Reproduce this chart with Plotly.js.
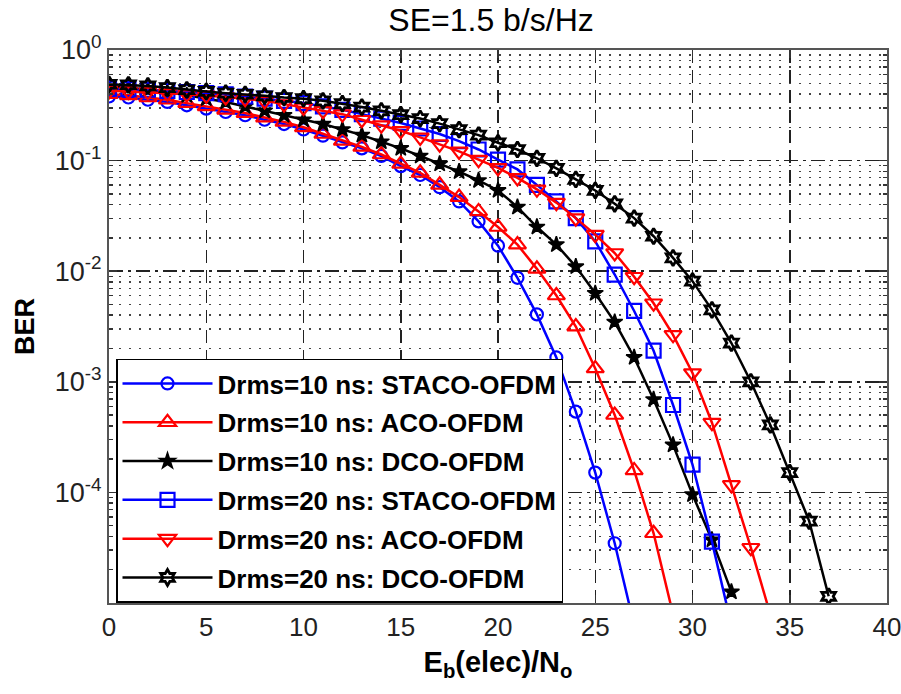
<!DOCTYPE html>
<html>
<head>
<meta charset="utf-8">
<script src="https://cdn.plot.ly/plotly-3.0.1.min.js"></script>
<style>html,body{margin:0;padding:0;background:#fff;}#chart{width:901px;height:694px;}</style>
</head>
<body>
<div id="chart"></div>
<script>
// Eb(elec)/No in dB for each series
const xStaco10 = [0,1,2,3,4,5,6,7,8,9,10,11,12,13,14,15,16,17,18,19,20,21,22,23,24,25,26,27];
const berStaco10 = [0.380,0.372,0.355,0.339,0.316,0.295,0.275,0.257,0.234,0.214,0.191,0.168,0.146,0.129,0.110,0.0891,0.0741,0.0575,0.0427,0.0282,0.0170,0.00871,0.00407,0.00166,0.000537,0.000151,3.47e-5,6.3e-6];

const xAco10 = [0,1,2,3,4,5,6,7,8,9,10,11,12,13,14,15,16,17,18,19,20,21,22,23,24,25,26,27,28,29];
const berAco10 = [0.398,0.389,0.372,0.355,0.331,0.309,0.288,0.269,0.245,0.224,0.200,0.174,0.151,0.133,0.1135,0.0933,0.0776,0.0603,0.0468,0.0347,0.0251,0.0174,0.0105,0.00603,0.00316,0.00132,0.000501,0.000158,4.27e-5,7.9e-6];

const xDco10 = [0,1,2,3,4,5,6,7,8,9,10,11,12,13,14,15,16,17,18,19,20,21,22,23,24,25,26,27,28,29,30,31,32];
const berDco10 = [0.468,0.457,0.437,0.417,0.389,0.363,0.339,0.309,0.282,0.257,0.234,0.214,0.191,0.170,0.148,0.129,0.110,0.0933,0.0794,0.0661,0.0537,0.038,0.0251,0.0174,0.011,0.00631,0.00347,0.00166,0.000692,0.000269,9.55e-5,3.72e-5,1.26e-5];

const xStaco20 = [0,1,2,3,4,5,6,7,8,9,10,11,12,13,14,15,16,17,18,19,20,21,22,23,24,25,26,27,28,29,30,31,32];
const berStaco20 = [0.447,0.442,0.437,0.427,0.417,0.407,0.398,0.380,0.363,0.347,0.331,0.309,0.288,0.263,0.240,0.219,0.195,0.174,0.150,0.126,0.102,0.0832,0.0603,0.0427,0.0302,0.0186,0.00933,0.00437,0.00191,0.000617,0.000178,3.59e-5,6.3e-6];

const xAco20 = [0,1,2,3,4,5,6,7,8,9,10,11,12,13,14,15,16,17,18,19,20,21,22,23,24,25,26,27,28,29,30,31,32,33,34];
const berAco20 = [0.427,0.422,0.417,0.407,0.398,0.389,0.376,0.363,0.347,0.324,0.302,0.282,0.263,0.234,0.209,0.186,0.162,0.141,0.121,0.102,0.0859,0.0697,0.055,0.0417,0.0302,0.0214,0.0146,0.00891,0.00513,0.00266,0.0012,0.000427,0.000117,3.16e-5,7.9e-6];

const xDco20 = [0,1,2,3,4,5,6,7,8,9,10,11,12,13,14,15,16,17,18,19,20,21,22,23,24,25,26,27,28,29,30,31,32,33,34,35,36,37];
const berDco20 = [0.490,0.485,0.473,0.457,0.437,0.422,0.407,0.398,0.385,0.372,0.363,0.347,0.327,0.305,0.282,0.260,0.240,0.216,0.191,0.170,0.145,0.126,0.105,0.0851,0.0676,0.0537,0.0407,0.0302,0.0207,0.0132,0.00813,0.00447,0.00224,0.001,0.000407,0.000151,5.5e-5,1.15e-5];

const seriesNames = ['Drms=10 ns: STACO-OFDM','Drms=10 ns: ACO-OFDM','Drms=10 ns: DCO-OFDM','Drms=20 ns: STACO-OFDM','Drms=20 ns: ACO-OFDM','Drms=20 ns: DCO-OFDM'];

const xTickVals = [0,5,10,15,20,25,30,35,40];
const yTickVals = [1, 0.1, 0.01, 0.001, 0.0001];
const yTickText = ['10<sup>0</sup>','10<sup>-1</sup>','10<sup>-2</sup>','10<sup>-3</sup>','10<sup>-4</sup>'];
const yMinorVals = [];
[1e-5,1e-4,1e-3,1e-2,1e-1].forEach(d => { for (let k = 2; k <= 9; k++) yMinorVals.push(+(k*d).toPrecision(3)); });

const styles = [
  {color:'#0000ff', symbol:'circle-open', size:12, lw:2.2},
  {color:'#ff0000', symbol:'triangle-up-open', size:15, lw:2.2},
  {color:'#000000', symbol:'star', size:12, lw:1.5},
  {color:'#0000ff', symbol:'square-open', size:14, lw:2.2},
  {color:'#ff0000', symbol:'triangle-down-open', size:15, lw:2.2},
  {color:'#000000', symbol:'hexagram-open', size:12, lw:2.8}
];
const xs = [xStaco10, xAco10, xDco10, xStaco20, xAco20, xDco20];
const ys = [berStaco10, berAco10, berDco10, berStaco20, berAco20, berDco20];

const traces = xs.map((x, i) => ({
  x: x, y: ys[i], name: seriesNames[i], type: 'scatter', mode: 'lines+markers',
  legendgroup: 'g' + i,
  line: {color: styles[i].color, width: 2.5},
  marker: {symbol: styles[i].symbol, size: styles[i].size, color: styles[i].color,
           line: {color: styles[i].color, width: styles[i].lw}}
}));

const sans = 'Liberation Sans, Arial, sans-serif';

const layout = {
  width: 901, height: 694,
  margin: {l: 109, r: 14, t: 50, b: 91},
  paper_bgcolor: '#fff', plot_bgcolor: '#fff',
  title: {text: 'SE=1.5 b/s/Hz', x: 0.545, xanchor: 'center', y: 0.972, yanchor: 'middle',
          font: {family: sans, size: 32, color: '#000'}},
  showlegend: true,
  legend: {x: 0.009, y: 0.442, xanchor: 'left', yanchor: 'top', bgcolor: '#fff',
           bordercolor: '#000', borderwidth: 1.5, itemwidth: 90, tracegroupgap: 2,
           traceorder: 'grouped',
           font: {family: sans, size: 26, color: '#000', weight: 'bold'}},
  xaxis: {
    range: [0, 40], tickmode: 'array', tickvals: xTickVals,
    ticks: 'inside', ticklen: 8, tickwidth: 1.5, tickcolor: '#333',
    showline: true, linecolor: '#555', linewidth: 2, mirror: 'ticks',
    showgrid: true, gridcolor: '#222', gridwidth: 1.5, griddash: '13px,7px',
    zeroline: false, ticklabeloverflow: 'allow',
    tickfont: {family: sans, size: 26, color: '#222'},
    title: {text: 'E<sub>b</sub>(elec)/N<sub>o</sub>', standoff: 10,
            font: {family: sans, size: 29, color: '#000', weight: 'bold'}}
  },
  yaxis: {
    type: 'log', range: [-5, 0], tickmode: 'array', tickvals: yTickVals, ticktext: yTickText,
    ticks: 'inside', ticklen: 8, tickwidth: 1.5, tickcolor: '#333',
    showline: true, linecolor: '#555', linewidth: 2, mirror: 'ticks',
    showgrid: true, gridcolor: '#222', gridwidth: 1.5, griddash: '14px,5px,3px,5px',
    zeroline: false,
    minor: {tickmode: 'array', tickvals: yMinorVals, ticks: 'inside', ticklen: 4, tickcolor: '#333',
            showgrid: true, gridcolor: '#444', gridwidth: 1.5, griddash: '2px,8px'},
    tickfont: {family: sans, size: 27, color: '#222'},
    title: {text: 'BER', standoff: 12, font: {family: sans, size: 27, color: '#000', weight: 'bold'}}
  }
};

Plotly.newPlot('chart', traces, layout, {displayModeBar: false, staticPlot: true});
</script>
</body>
</html>
